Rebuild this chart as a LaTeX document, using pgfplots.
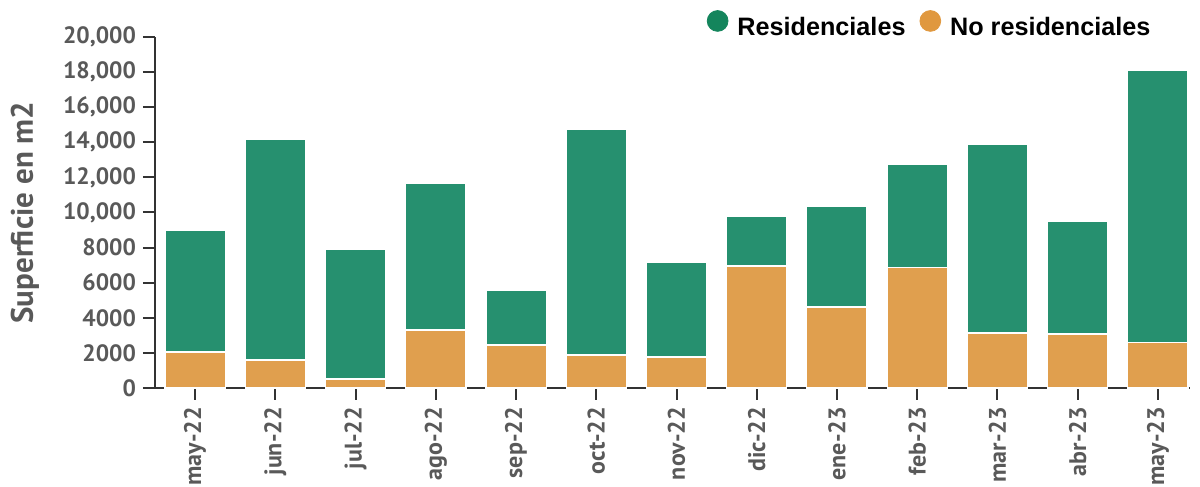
\documentclass[border=0pt]{standalone}
\usepackage{fontspec}
\setmainfont{PT Sans}
\newfontfamily\legfont{Liberation Sans}
\usepackage{pgfplots}
\pgfplotsset{compat=1.18}
\definecolor{resid}{HTML}{26906F}
\definecolor{nores}{HTML}{E09F4E}
\definecolor{residdot}{HTML}{14855C}
\definecolor{nresdot}{HTML}{E0983F}
\definecolor{ticktxt}{HTML}{595959}
\definecolor{axcol}{HTML}{333333}
\begin{document}
\begin{tikzpicture}
\path[use as bounding box] (0pt,0pt) rectangle (600pt,243.5pt);
\begin{axis}[
  at={(77.5pt,49.5pt)}, anchor=south west,
  scale only axis, width=517.5pt, height=175.5pt,
  ybar stacked, bar width=0.75,
  xmin=-0.5, xmax=12.4, ymin=0, ymax=20000,
  scaled y ticks=false,
  axis x line*=bottom, axis y line*=left,
  axis line style={axcol, line width=1pt},
  tick style={axcol, line width=1pt},
  tick align=outside, major tick length=6pt,
  xtick={0,...,12},
  xticklabels={may-22,jun-22,jul-22,ago-22,sep-22,oct-22,nov-22,dic-22,ene-23,feb-23,mar-23,abr-23,may-23},
  x tick label style={rotate=90, anchor=east, font=\bfseries\fontsize{12}{13}\selectfont, text=ticktxt},
  ytick={0,2000,4000,6000,8000,10000,12000,14000,16000,18000,20000},
  yticklabels={0,2000,4000,6000,8000,{10,000},{12,000},{14,000},{16,000},{18,000},{20,000}},
  y tick label style={font=\bfseries\fontsize{11.8}{13}\selectfont, text=ticktxt},
  ylabel={Superficie en m2},
  ylabel style={at={(axis description cs:-0.1256,0.5)}, anchor=center, rotate=0, font=\bfseries\fontsize{15.5}{17}\selectfont, text=ticktxt},
  legend style={at={(axis description cs:0.527,1.03)}, anchor=west, draw=none, fill=none,
    font=\legfont\bfseries\fontsize{12.6}{14}\selectfont, legend columns=2,
    /tikz/every even column/.append style={column sep=5pt},
    /tikz/every odd column/.append style={column sep=2.5pt}},
  legend cell align=left,
  clip=false,
]
\addlegendimage{legend image code/.code={\fill[residdot] (5pt,0.36em) circle (5.2pt);}}
\addlegendentry{Residenciales}
\addlegendimage{legend image code/.code={\fill[nresdot] (5pt,0.36em) circle (5.2pt);}}
\addlegendentry{No residenciales}
\addplot[fill=nores, draw=white, line width=0.6pt, forget plot] coordinates {
(0,2050) (1,1600) (2,510) (3,3300) (4,2450) (5,1880) (6,1770) (7,6950) (8,4620) (9,6870) (10,3130) (11,3080) (12,2580)};
\addplot[fill=resid, draw=white, line width=0.6pt, forget plot] coordinates {
(0,6950) (1,12590) (2,7410) (3,8380) (4,3130) (5,12880) (6,5410) (7,2810) (8,5710) (9,5890) (10,10770) (11,6400) (12,15540)};
\end{axis}
\end{tikzpicture}
\end{document}
